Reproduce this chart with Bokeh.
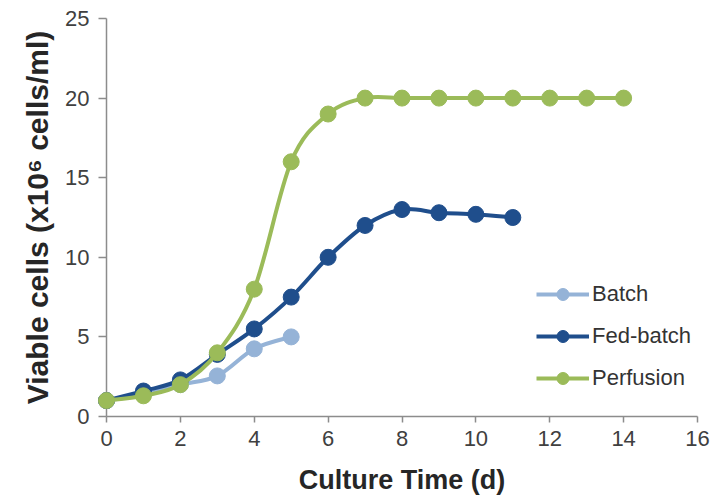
from bokeh.plotting import figure
from bokeh.models import Range1d, FixedTicker, ColumnDataSource, Legend, LegendItem
from bokeh.embed import file_html
from bokeh.resources import INLINE

# ---- data ----
batch_days = [0, 1, 2, 3, 4, 5]
batch_cells = [1.0, 1.4, 2.0, 2.55, 4.25, 5.0]

fed_days = [0, 1, 2, 3, 4, 5, 6, 7, 8, 9, 10, 11]
fed_cells = [1.0, 1.6, 2.3, 3.9, 5.5, 7.5, 10.0, 12.0, 13.0, 12.8, 12.7, 12.5]

perf_days = [0, 1, 2, 3, 4, 5, 6, 7, 8, 9, 10, 11, 12, 13, 14]
perf_cells = [1.0, 1.3, 2.0, 4.0, 8.0, 16.0, 19.0, 20.0, 20.0, 20.0, 20.0, 20.0, 20.0, 20.0, 20.0]

x_ticks = [0, 2, 4, 6, 8, 10, 12, 14, 16]
y_ticks = [0, 5, 10, 15, 20, 25]

series_names = ["Batch", "Fed-batch", "Perfusion"]
colors = ["#95B3D7", "#1F4E8C", "#9BBB59"]
x_title = "Culture Time (d)"
y_title = "Viable cells (x10\u2076 cells/ml)"

FONT = "Liberation Sans"


def smooth_source(xs, ys):
    """Bezier control points (Excel-like smoothing) computed from the data."""
    n = len(xs)
    d = dict(x0=[], y0=[], x1=[], y1=[], cx0=[], cy0=[], cx1=[], cy1=[])
    for i in range(n - 1):
        a = i - 1 if i > 0 else i
        b = i + 2 if i + 2 < n else i + 1
        d["x0"].append(xs[i]); d["y0"].append(ys[i])
        d["x1"].append(xs[i + 1]); d["y1"].append(ys[i + 1])
        d["cx0"].append(xs[i] + (xs[i + 1] - xs[a]) / 6.0)
        d["cy0"].append(ys[i] + (ys[i + 1] - ys[a]) / 6.0)
        d["cx1"].append(xs[i + 1] - (xs[b] - xs[i]) / 6.0)
        d["cy1"].append(ys[i + 1] - (ys[b] - ys[i]) / 6.0)
    return ColumnDataSource(d)


p = figure(width=715, height=499, output_backend="svg", toolbar_location=None,
           x_range=Range1d(0, 16), y_range=Range1d(0, 25),
           min_border_left=106, min_border_right=18, min_border_top=18,
           min_border_bottom=83)
p.outline_line_color = None
p.grid.visible = False
p.background_fill_color = "white"
p.border_fill_color = "white"

items = []
for name, xs, ys, col in zip(series_names,
                             [batch_days, fed_days, perf_days],
                             [batch_cells, fed_cells, perf_cells],
                             colors):
    src = smooth_source(xs, ys)
    r_line = p.bezier(x0="x0", y0="y0", x1="x1", y1="y1", cx0="cx0", cy0="cy0",
                      cx1="cx1", cy1="cy1", source=src, line_color=col, line_width=4,
                      level="overlay")
    r_pts = p.scatter(xs, ys, size=16, marker="circle", fill_color=col, line_color=col,
                      level="overlay")
    items.append(LegendItem(label=name, renderers=[r_line, r_pts]))

legend = Legend(items=items, location=(430, 23), orientation="vertical",
                border_line_color=None, background_fill_alpha=0,
                padding=0, margin=0, spacing=12,
                glyph_width=53, glyph_height=30, label_height=30,
                label_standoff=3, label_text_font=FONT,
                label_text_font_size="22px", label_text_color="#333333")
p.add_layout(legend, "center")

# axes
for ax in [p.xaxis[0], p.yaxis[0]]:
    ax.axis_line_color = "#8C8C8C"
    ax.axis_line_width = 1.5
    ax.major_tick_line_color = "#8C8C8C"
    ax.major_tick_line_width = 1.5
    ax.minor_tick_line_color = None
    ax.major_tick_in = 0
    ax.major_label_text_font = FONT
    ax.major_label_text_font_size = "22px"
    ax.major_label_text_color = "#404040"
    ax.axis_label_text_font = FONT
    ax.axis_label_text_font_style = "bold"
    ax.axis_label_text_color = "#262626"

p.xaxis[0].ticker = FixedTicker(ticks=x_ticks)
p.xaxis[0].major_tick_out = 6
p.xaxis[0].major_label_standoff = 8
p.xaxis[0].axis_label = x_title
p.xaxis[0].axis_label_text_font_size = "27px"
p.xaxis[0].axis_label_standoff = 16

p.yaxis[0].ticker = FixedTicker(ticks=y_ticks)
p.yaxis[0].major_tick_out = 8
p.yaxis[0].major_label_standoff = 9
p.yaxis[0].axis_label = y_title
p.yaxis[0].axis_label_text_font_size = "30px"
p.yaxis[0].axis_label_standoff = 8

open("out.html", "w").write(file_html(p, INLINE))
